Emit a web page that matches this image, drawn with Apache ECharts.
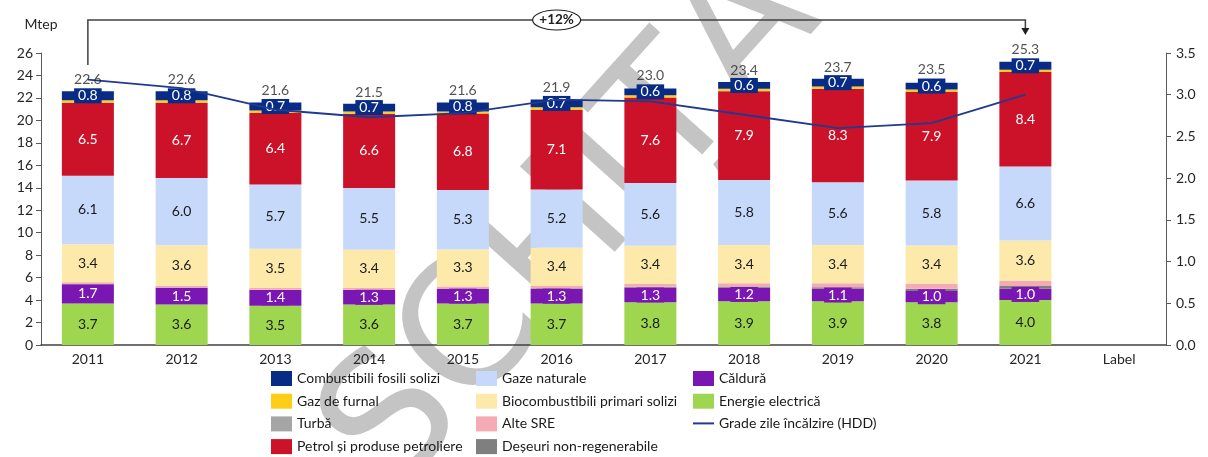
<!DOCTYPE html>
<html>
<head>
<meta charset="utf-8">
<script src="https://cdn.jsdelivr.net/npm/echarts@6/dist/echarts.min.js"></script>
<style>
  html, body { margin: 0; padding: 0; background: #fff; }
  #chart { width: 1208px; height: 457px; }
</style>
</head>
<body>
<div id="chart"></div>
<script>
const categories = ['2011', '2012', '2013', '2014', '2015', '2016', '2017', '2018', '2019', '2020', '2021', 'Label']

// Mtep, stacked bottom -> top
const energie = [3.7, 3.6, 3.5, 3.6, 3.7, 3.7, 3.8, 3.9, 3.9, 3.8, 4.0]
const caldura = [1.7, 1.5, 1.4, 1.3, 1.3, 1.3, 1.3, 1.2, 1.1, 1.0, 1.0]
const deseuri = [0.03, 0.03, 0.03, 0.03, 0.04, 0.05, 0.08, 0.1, 0.15, 0.2, 0.25]
const alteSRE = [0.15, 0.15, 0.15, 0.15, 0.17, 0.2, 0.25, 0.3, 0.35, 0.45, 0.45]
const biocomb = [3.4, 3.6, 3.5, 3.4, 3.3, 3.4, 3.4, 3.4, 3.4, 3.4, 3.6]
const gaze = [6.1, 6.0, 5.7, 5.5, 5.3, 5.2, 5.6, 5.8, 5.6, 5.8, 6.6]
const petrol = [6.5, 6.7, 6.4, 6.6, 6.8, 7.1, 7.6, 7.9, 8.3, 7.9, 8.4]
const turba = [0.01, 0.01, 0.01, 0.01, 0.01, 0.01, 0.01, 0.01, 0.01, 0.01, 0.01]
const furnal = [0.2, 0.2, 0.2, 0.2, 0.18, 0.2, 0.2, 0.2, 0.2, 0.2, 0.2]
const fosili = [0.8, 0.8, 0.7, 0.7, 0.8, 0.7, 0.6, 0.6, 0.7, 0.6, 0.7]
const totals = [22.6, 22.6, 21.6, 21.5, 21.6, 21.9, 23.0, 23.4, 23.7, 23.5, 25.3]

// grade zile incalzire, right axis
const hdd = [3.18, 3.08, 2.82, 2.73, 2.78, 2.94, 2.92, 2.76, 2.6, 2.66, 3.0]

const legendCol1 = ['Combustibili fosili solizi', 'Gaz de furnal', 'Turbă', 'Petrol și produse petroliere']
const legendCol2 = ['Gaze naturale', 'Biocombustibili primari solizi', 'Alte SRE', 'Deșeuri non-regenerabile']
const legendCol3 = ['Căldură', 'Energie electrică']
const HDD_NAME = 'Grade zile încălzire (HDD)'

const FONT = 'Lato'
const TXT = '#262626'

const chart = echarts.init(document.getElementById('chart'))

const fmt = p => p.value.toFixed(1)

const inner = (color, extra) => Object.assign({
  show: true,
  position: 'inside',
  formatter: fmt,
  color: color,
  fontSize: 14,
  fontFamily: FONT
}, extra || {})

const bar = (name, data, color, label) => ({
  name: name,
  type: 'bar',
  stack: 'total',
  data: data,
  barWidth: 52,
  itemStyle: { color: color },
  label: label || { show: false },
  emphasis: { disabled: true }
})

const rectItems = names => names.map(n => ({ name: n, icon: 'rect' }))

const legendBase = {
  orient: 'vertical',
  top: 371,
  itemWidth: 21,
  itemHeight: 15,
  itemGap: 7.7,
  padding: 0,
  textStyle: { color: '#1a1a1a', fontSize: 14, fontFamily: FONT },
  selectedMode: false
}

const option = {
  animation: false,
  backgroundColor: '#fff',
  grid: { left: 41, right: 42, top: 53, bottom: 112 },
  legend: [
    Object.assign({}, legendBase, { left: 271, data: rectItems(legendCol1) }),
    Object.assign({}, legendBase, { left: 476, data: rectItems(legendCol2) }),
    Object.assign({}, legendBase, {
      left: 692,
      data: rectItems(legendCol3).concat([{ name: HDD_NAME, itemStyle: { opacity: 0 } }])
    })
  ],
  xAxis: {
    type: 'category',
    data: categories,
    axisTick: { show: false },
    axisLine: { lineStyle: { color: '#404040', width: 1.5 } },
    axisLabel: { color: TXT, fontSize: 14, fontFamily: FONT, margin: 7 }
  },
  yAxis: [
    {
      type: 'value',
      min: 0,
      max: 26,
      interval: 2,
      name: 'Mtep',
      nameLocation: 'end',
      nameGap: 22,
      nameTextStyle: { color: TXT, fontSize: 14, fontFamily: FONT, align: 'center' },
      axisLine: { show: true, lineStyle: { color: '#595959' } },
      axisTick: { show: true, length: 5, lineStyle: { color: '#595959' } },
      splitLine: { show: false },
      axisLabel: { color: TXT, fontSize: 14, fontFamily: FONT, margin: 8 }
    },
    {
      type: 'value',
      position: 'right',
      min: 0,
      max: 3.5,
      interval: 0.5,
      axisLine: { show: true, lineStyle: { color: '#595959' } },
      axisTick: { show: true, length: 5, lineStyle: { color: '#595959' } },
      splitLine: { show: false },
      axisLabel: { color: TXT, fontSize: 14, fontFamily: FONT, margin: 10, formatter: v => v.toFixed(1) }
    }
  ],
  series: [
    bar('Energie electrică', energie, '#9fd650', inner('#1a1a1a')),
    bar('Căldură', caldura, '#7a16b2', inner('#fff', { backgroundColor: '#7a16b2', padding: [1, 4, 0, 4] })),
    bar('Deșeuri non-regenerabile', deseuri, '#7f7f7f'),
    bar('Alte SRE', alteSRE, '#f5abb5'),
    bar('Biocombustibili primari solizi', biocomb, '#fde9a9', inner('#1a1a1a')),
    bar('Gaze naturale', gaze, '#c6d9fb', inner('#1a1a1a')),
    bar('Petrol și produse petroliere', petrol, '#cc1228', inner('#fff')),
    bar('Turbă', turba, '#a5a5a5'),
    bar('Gaz de furnal', furnal, '#fdcd17'),
    bar('Combustibili fosili solizi', fosili, '#082c85', inner('#fff', { backgroundColor: '#082c85', padding: [1, 4, 0, 4] })),
    {
      name: 'total',
      type: 'scatter',
      data: totals,
      symbolSize: 1,
      itemStyle: { color: 'rgba(0,0,0,0)' },
      label: {
        show: true,
        position: 'top',
        distance: 4,
        formatter: fmt,
        color: TXT,
        fontSize: 14,
        fontFamily: FONT
      },
      z: 4
    },
    {
      name: HDD_NAME,
      type: 'line',
      yAxisIndex: 1,
      data: hdd,
      symbol: 'none',
      lineStyle: { color: '#1f3a8f', width: 1.8 },
      itemStyle: { color: '#1f3a8f' },
      z: 3
    }
  ]
}

chart.setOption(option)

// +12% bracket from first to last year, and the draft watermark
const x0 = chart.convertToPixel({ xAxisIndex: 0 }, categories[0])
const x1 = chart.convertToPixel({ xAxisIndex: 0 }, categories[totals.length - 1])
const growth = Math.round((totals[totals.length - 1] / totals[0] - 1) * 100)
const mid = (x0 + x1) / 2

chart.setOption({
  graphic: [
    {
      type: 'text',
      silent: true,
      z: -10,
      x: 575,
      y: 228,
      rotation: 48 * Math.PI / 180,
      style: {
        text: 'SCHIȚA',
        font: '175px "DejaVu Sans"',
        fill: '#c4c4c4',
        align: 'center',
        verticalAlign: 'middle'
      }
    },
    {
      type: 'polyline',
      shape: { points: [[x0, 65], [x0, 20], [x1, 20], [x1, 29]] },
      style: { stroke: '#404040', lineWidth: 1.5, fill: null }
    },
    {
      type: 'polygon',
      shape: { points: [[x1 - 4, 28], [x1 + 4, 28], [x1, 35]] },
      style: { fill: '#202020' }
    },
    {
      type: 'ellipse',
      shape: { cx: mid, cy: 20, rx: 24, ry: 10 },
      style: { fill: '#fff', stroke: '#202020', lineWidth: 1.2 }
    },
    {
      type: 'text',
      x: mid,
      y: 20,
      style: {
        text: '+' + growth + '%',
        align: 'center',
        verticalAlign: 'middle',
        font: 'bold 13.5px Lato',
        fill: '#202020'
      }
    }
  ]
})
</script>
</body>
</html>
